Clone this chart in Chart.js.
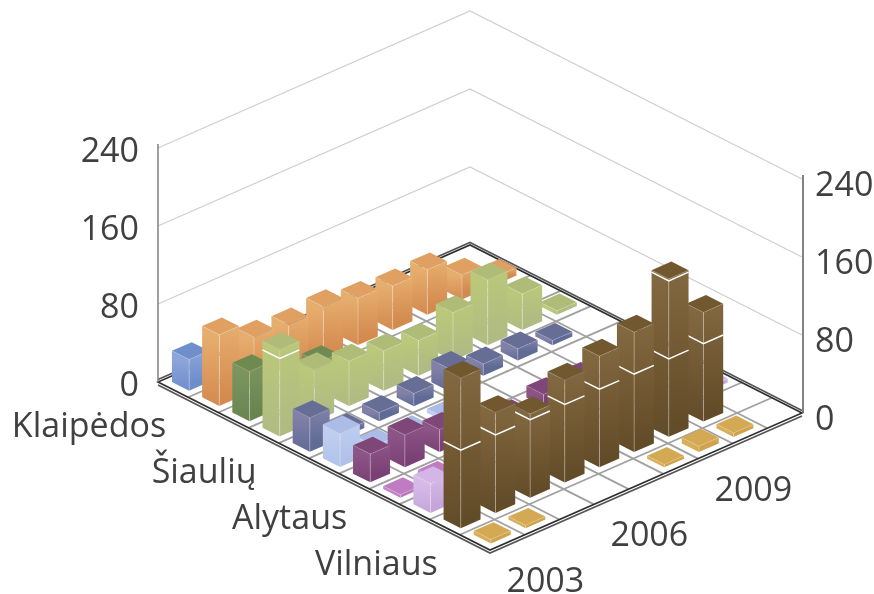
<!DOCTYPE html>
<html>
<head>
<meta charset="utf-8">
<title>3D bars</title>
<script src="https://cdn.jsdelivr.net/npm/chart.js@4/dist/chart.umd.js"></script>
<style>
  body { margin: 0; background: #fff; }
</style>
</head>
<body>
<canvas id="bars" width="874" height="594"></canvas>
<script>
// only every third row / year carries a label in the picture
const rowLabels = ['Klaipėdos', '', '', 'Šiaulių', '', '', 'Alytaus', '', '', 'Vilniaus', '']
const years = ['2003', '', '', '2006', '', '', '2009', '', '']
const valueTicks = [0, 80, 160, 240]

// one list per row, back to front, one value per year
const row0 = [32, null, null, null, null, null, null, null, null]
const row1 = [73, 55, 52, 55, 48, 45, 46, 25, 8]
const row2 = [51, null, 29, null, null, null, null, null, null]
const row3 = [89, 53, 46, 41, 36, 49, 67, 37, 4]
const row4 = [35, 6, 9, 13, 23, 12, 12, 5, null]
const row5 = [35, 6, 4, 4, null, null, null, null, null]
const row6 = [29, 33, 23, null, 5, 12, 12, null, null]
const row7 = [3, 4, null, null, null, null, null, null, null]
const row8 = [30, null, null, null, null, null, null, null, 4]
const row9 = [154, 103, 86, 105, 114, 123, 162, 112, null]
const row10 = [4, 3, null, null, null, 3, 6, 4, null]
const rows = [row0, row1, row2, row3, row4, row5, row6, row7, row8, row9, row10]

const palette = [
  { top: '#6E8FCB', hi: '#8DA5D9', lo: '#6D8DCB' },
  { top: '#DFA062', hi: '#E6AE6E', lo: '#D38A4F' },
  { top: '#6F8A50', hi: '#7C9560', lo: '#698450' },
  { top: '#AFBC78', hi: '#BAC87A', lo: '#AFBB82' },
  { top: '#666E96', hi: '#8080A8', lo: '#5F6A95' },
  { top: '#ABBCE6', hi: '#BFCEF0', lo: '#B0C2EA' },
  { top: '#7F4678', hi: '#8C5585', lo: '#7A4075' },
  { top: '#C07CC2', hi: '#C583C6', lo: '#BB76BC' },
  { top: '#D3B6E6', hi: '#D6BBE9', lo: '#C6A6D9' },
  { top: '#72582F', hi: '#826840', lo: '#624B28' },
  { top: '#D4A954', hi: '#D8AE58', lo: '#CFA24C' },
]

const fontFamily = '"Open Sans", sans-serif'
const textColor = '#404040'
const floorRow = { x: 332, y: 168 }
const floorCol = { x: 312, y: -137 }
const barSize = 0.57

function project(chart, r, c, v) {
  const { rowAxis, colAxis, y } = chart.scales
  const dr = (rowAxis.getPixelForValue(r) - rowAxis.left) / rowAxis.width
  const dc = (colAxis.getPixelForValue(c) - colAxis.left) / colAxis.width
  const base = chart.chartArea
  return {
    x: base.left + dr * floorRow.x + dc * floorCol.x,
    y: base.bottom + y.getPixelForValue(v) - y.getPixelForValue(0) + dr * floorRow.y + dc * floorCol.y,
  }
}

function polyline(ctx, pts, close) {
  ctx.beginPath()
  pts.forEach((p, i) => (i ? ctx.lineTo(p.x, p.y) : ctx.moveTo(p.x, p.y)))
  if (close) ctx.closePath()
}

function drawWalls(chart, ctx) {
  const n = rows.length
  const m = years.length
  ctx.strokeStyle = '#CFCFCF'
  ctx.lineWidth = 1.2
  valueTicks.slice(1).forEach(v => {
    polyline(ctx, [project(chart, 0, 0, v), project(chart, 0, m, v), project(chart, n, m, v)])
    ctx.stroke()
  })
}

function drawFloor(chart, ctx) {
  const n = rows.length
  const m = years.length
  ctx.strokeStyle = '#A0A0A0'
  ctx.lineWidth = 1.8
  for (let r = 1; r < n; r++) {
    polyline(ctx, [project(chart, r, 0, 0), project(chart, r, m, 0)])
    ctx.stroke()
  }
  for (let c = 1; c < m; c++) {
    polyline(ctx, [project(chart, 0, c, 0), project(chart, n, c, 0)])
    ctx.stroke()
  }
  // the floor has a thin edge: a dark outline with a second line next to it
  const outline = [project(chart, 0, 0, 0), project(chart, n, 0, 0), project(chart, n, m, 0), project(chart, 0, m, 0)]
  ctx.lineWidth = 1.6
  ctx.strokeStyle = '#555555'
  polyline(ctx, outline.map(p => ({ x: p.x, y: p.y + 3 })).slice(0, 3))
  ctx.stroke()
  polyline(ctx, [outline[0], outline[3], outline[2]].map(p => ({ x: p.x, y: p.y - 2.5 })))
  ctx.stroke()
  ctx.strokeStyle = '#2E2E2E'
  polyline(ctx, outline, true)
  ctx.stroke()
}

function drawBar(chart, ctx, r, c, value, color) {
  const lo = 0.5 - barSize / 2
  const hi = 0.5 + barSize / 2
  const at = (dr, dc, v) => project(chart, r + dr, c + dc, v)
  const left = [at(lo, lo, value), at(hi, lo, value), at(hi, lo, 0), at(lo, lo, 0)]
  const right = [at(hi, lo, value), at(hi, hi, value), at(hi, hi, 0), at(hi, lo, 0)]
  const top = [at(lo, lo, value), at(hi, lo, value), at(hi, hi, value), at(lo, hi, value)]

  ;[left, right].forEach(face => {
    const g = ctx.createLinearGradient(0, face[1].y, 0, face[2].y)
    g.addColorStop(0, color.hi)
    g.addColorStop(1, color.lo)
    ctx.fillStyle = g
    polyline(ctx, face, true)
    ctx.fill()
  })
  ctx.fillStyle = color.top
  polyline(ctx, top, true)
  ctx.fill()

  ctx.lineWidth = 1
  ctx.strokeStyle = 'rgba(255,255,255,0.14)'
  polyline(ctx, [left[0], left[1], right[1]])
  ctx.stroke()
  ctx.strokeStyle = 'rgba(255,255,255,0.3)'
  polyline(ctx, [left[1], left[2]])
  ctx.stroke()

  // the white band where the value gridlines cross a bar
  ctx.strokeStyle = '#FFFFFF'
  ctx.lineWidth = 1.5
  valueTicks.slice(1).filter(t => t < value).forEach(t => {
    polyline(ctx, [at(lo, lo, t), at(hi, lo, t), at(hi, hi, t)])
    ctx.stroke()
  })
}

function drawBars(chart, ctx) {
  chart.data.datasets.forEach((ds, r) => {
    const meta = chart.getDatasetMeta(r)
    for (let i = ds.data.length - 1; i >= 0; i--) {
      const point = meta.controller.getParsed(i)
      if (point && Number.isFinite(point.y)) drawBar(chart, ctx, r, point.x, point.y, palette[r])
    }
  })
}

function drawAxes(chart, ctx) {
  const { left, right, top, bottom } = chart.chartArea
  ctx.lineWidth = 1.5
  ctx.strokeStyle = '#7F7F7F'
  ctx.beginPath()
  ctx.moveTo(left, top - 4)
  ctx.lineTo(left, bottom)
  ctx.stroke()
  const corner = project(chart, rows.length, years.length, 0)
  const cornerTop = project(chart, rows.length, years.length, 240)
  ctx.strokeStyle = '#595959'
  ctx.beginPath()
  ctx.moveTo(right, cornerTop.y - 4)
  ctx.lineTo(right, corner.y)
  ctx.stroke()
}

function drawNames(chart, ctx) {
  ctx.font = '34px ' + fontFamily
  ctx.fillStyle = textColor
  ctx.textBaseline = 'middle'
  ctx.textAlign = 'right'
  rowLabels.forEach((name, r) => {
    const p = project(chart, r + 0.5, 0, 0)
    if (name) ctx.fillText(name, p.x - 7, p.y + 38)
  })
  ctx.textAlign = 'center'
  years.forEach((name, c) => {
    const p = project(chart, rows.length, c + 0.5, 0)
    if (name) ctx.fillText(name, p.x + 38, p.y + 40)
  })
}

const bars3d = {
  id: 'bars3d',
  afterLayout(chart) {
    // the far wall sits lower than the near one, so its ticks are moved along
    const shifts = { y: 4, yFar: 38 }
    Object.keys(shifts).forEach(id => {
      const s = chart.scales[id]
      s.top += shifts[id]
      s.bottom += shifts[id]
      s.configure()
    })
  },
  beforeDatasetsDraw(chart) {
    const ctx = chart.ctx
    ctx.save()
    drawWalls(chart, ctx)
    drawFloor(chart, ctx)
    drawBars(chart, ctx)
    drawAxes(chart, ctx)
    drawNames(chart, ctx)
    ctx.restore()
  },
}

const valueAxis = (position, width, padding) => ({
  type: 'linear',
  position,
  min: 0,
  max: 240,
  afterFit: scale => { scale.width = width },
  afterBuildTicks: scale => { scale.ticks = valueTicks.map(value => ({ value })) },
  grid: { display: false },
  border: { display: false },
  ticks: {
    autoSkip: false,
    padding,
    color: textColor,
    font: { family: fontFamily, size: 34 },
  },
})

// invisible but laid out, so they keep a real pixel range
const floorAxis = max => ({
  type: 'linear',
  axis: 'x',
  position: 'bottom',
  min: 0,
  max,
  afterFit: scale => { scale.height = 0 },
  grid: { display: false },
  border: { display: false },
  ticks: { display: false },
})

new Chart(document.querySelector('#bars'), {
  type: 'scatter',
  data: {
    datasets: rows.map((data, r) => ({
      label: rowLabels[r],
      data: data.map((y, c) => ({ x: c, y })),
      xAxisID: 'colAxis',
      yAxisID: 'y',
      pointRadius: 0,
    })),
  },
  options: {
    responsive: false,
    animation: false,
    layout: { padding: { top: 148, bottom: 212 } },
    plugins: { legend: { display: false }, tooltip: { enabled: false } },
    scales: {
      rowAxis: floorAxis(rows.length),
      colAxis: floorAxis(years.length),
      y: valueAxis('left', 158, 11),
      yFar: valueAxis('right', 71, 4),
    },
  },
  plugins: [bars3d],
})
</script>
</body>
</html>
